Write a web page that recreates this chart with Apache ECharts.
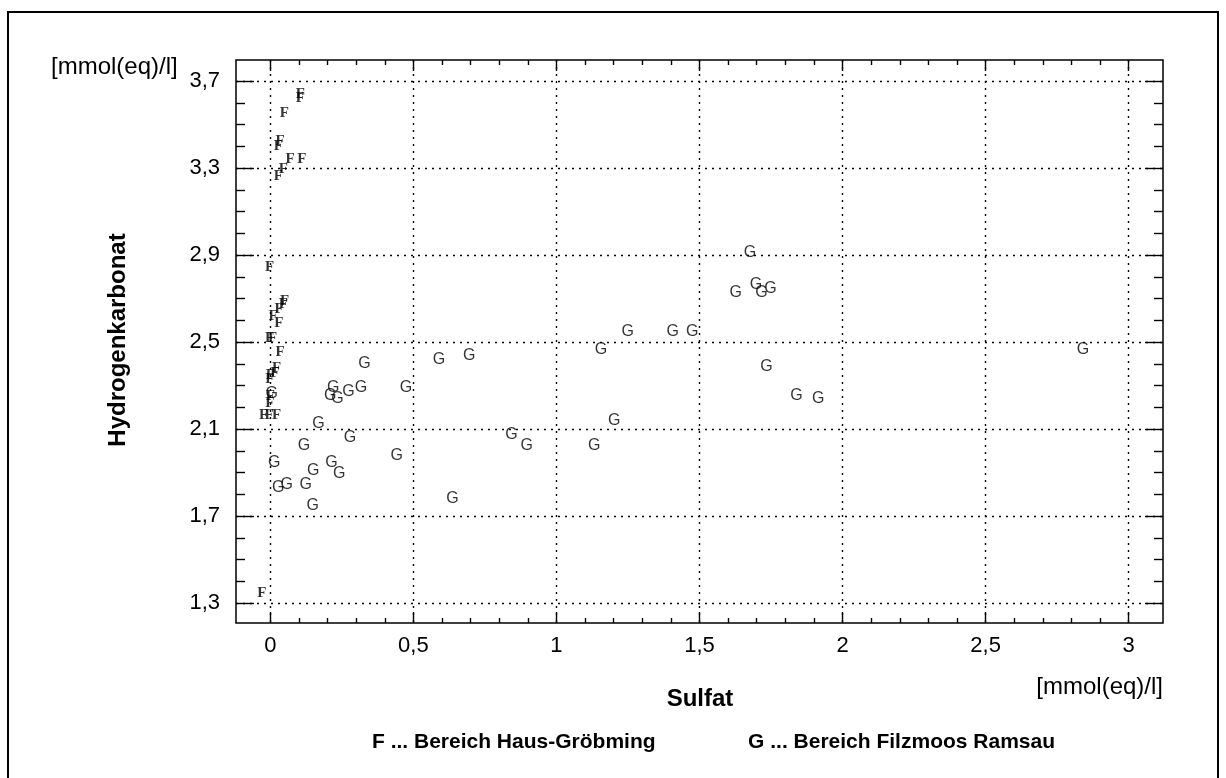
<!DOCTYPE html>
<html><head><meta charset="utf-8">
<script src="https://cdn.jsdelivr.net/npm/echarts@6/dist/echarts.min.js"></script>
<style>html,body{margin:0;padding:0;background:#fff}#c{width:1226px;height:778px}</style>
</head><body><div id="c"></div>
<script>
// ---- data (Sulfat [mmol(eq)/l], Hydrogenkarbonat [mmol(eq)/l]) ----
const fSulfat = [0.105,0.105,0.049,0.034,0.028,0.069,0.11,0.045,0.028,-0.003,0.05,0.045,0.031,0.01,0.03,-0.003,0.008,0.034,0.022,0.016,0.0,-0.002,0.0,-0.002,-0.024,-0.004,0.022,-0.03];
const fHydro  = [3.64,3.62,3.554,3.425,3.40,3.34,3.34,3.294,3.263,2.846,2.69,2.675,2.65,2.62,2.586,2.517,2.517,2.453,2.379,2.359,2.348,2.328,2.25,2.22,2.165,2.165,2.165,1.344];
const gSulfat = [0.005,0.168,0.22,0.273,0.317,0.209,0.235,0.474,0.329,0.278,0.118,0.014,0.214,0.442,0.15,0.241,0.057,0.028,0.124,0.148,0.637,1.249,1.406,1.475,1.156,0.589,0.695,1.202,0.843,0.896,1.132,1.676,1.697,1.748,1.717,1.627,1.734,1.839,1.915,2.84];
const gHydro  = [2.262,2.126,2.292,2.272,2.292,2.256,2.238,2.292,2.402,2.06,2.023,1.945,1.947,1.976,1.911,1.896,1.846,1.83,1.846,1.749,1.78,2.547,2.547,2.547,2.466,2.42,2.437,2.141,2.076,2.023,2.023,2.911,2.765,2.747,2.729,2.729,2.386,2.256,2.238,2.466];
const xTicks = [0,0.5,1,1.5,2,2.5,3];
const yTicks = [1.3,1.7,2.1,2.5,2.9,3.3,3.7];
const xRange = [-0.12,3.12];
const yRange = [1.208,3.797];
const xTitle = 'Sulfat';
const yTitle = 'Hydrogenkarbonat';
const unitText = '[mmol(eq)/l]';
const legendF = 'F ... Bereich Haus-Gröbming';
const legendG = 'G ... Bereich Filzmoos Ramsau';
const markF = 'F', markG = 'G';

const chart = echarts.init(document.getElementById('c'), null, {renderer:'canvas'});
const fmt = v => (Math.round(v*10)/10).toString().replace('.', ',');
const blk = '#000';
const font = 'Arial, "Liberation Sans", sans-serif';
const gridLine = {show:true, lineStyle:{color:blk, width:1.4, type:[2,5]}};

const xTickAxis = (pos, labels, split) => ({
  gridIndex:1, type:'value', position:pos, min:xTicks[0], max:xTicks[xTicks.length-1],
  interval:xTicks[1]-xTicks[0],
  axisLine:{show:false, onZero:false},
  axisTick:{show:true, inside:true, length:11, lineStyle:{color:blk, width:1.4}},
  minorTick:{show:true, splitNumber:5, length:5, lineStyle:{color:blk, width:1.4}},
  axisLabel:{show:labels, margin:12, color:blk, fontSize:22, fontFamily:font, formatter:fmt},
  splitLine: split ? gridLine : {show:false}
});
const yTickAxis = (pos, labels, split) => ({
  gridIndex:2, type:'value', position:pos, min:yTicks[0], max:yTicks[yTicks.length-1],
  interval:Math.round((yTicks[1]-yTicks[0])*10)/10,
  axisLine:{show:false, onZero:false},
  axisTick:{show:true, inside:true, length:18, lineStyle:{color:blk, width:1.4}},
  minorTick:{show:true, splitNumber:4, length:9, lineStyle:{color:blk, width:1.4}},
  axisLabel:{show:labels, margin:16, color:blk, fontSize:22, fontFamily:font, formatter:fmt},
  splitLine: split ? gridLine : {show:false}
});
const markerSeries = (xs, ys, mark, fam, size, weight) => ({
  type:'scatter', xAxisIndex:0, yAxisIndex:0, symbolSize:2, z:10,
  itemStyle:{color:'rgba(0,0,0,0)'},
  data:xs.map((x,i)=>[x,ys[i]]),
  label:{show:true, position:'inside', formatter:mark, color:blk, fontSize:size, fontWeight:weight, fontFamily:fam},
  labelLayout:{hideOverlap:false}
});

const option = {
  backgroundColor:'#fff',
  animation:false,
  grid:[
    {left:236, right:63, top:60, bottom:155, show:true, borderColor:blk, borderWidth:1.5, backgroundColor:'transparent', z:3},
    {left:270.3, right:97.3, top:60, bottom:155},
    {left:236, right:63, top:81, bottom:175}
  ],
  xAxis:[
    {gridIndex:0, type:'value', min:xRange[0], max:xRange[1], show:false},
    xTickAxis('bottom', true, true),
    xTickAxis('top', false, false),
    {gridIndex:2, type:'value', min:0, max:1, show:false}
  ],
  yAxis:[
    {gridIndex:0, type:'value', min:yRange[0], max:yRange[1], show:false},
    {gridIndex:1, type:'value', min:0, max:1, show:false},
    yTickAxis('left', true, true),
    yTickAxis('right', false, false)
  ],
  series:[
    markerSeries(fSulfat, fHydro, markF, '"Liberation Serif", serif', 15, 'bold'),
    markerSeries(gSulfat, gHydro, markG, font, 16, 'normal')
  ],
  graphic:[
    {type:'rect', shape:{x:8, y:12, width:1210, height:800}, style:{fill:'none', stroke:blk, lineWidth:2}, silent:true},
    {type:'text', left:51, top:55, style:{text:unitText, fill:blk, fontSize:24, fontFamily:font}},
    {type:'text', right:63, top:675, style:{text:unitText, fill:blk, fontSize:24, fontFamily:font}},
    {type:'text', x:700, y:699, style:{text:xTitle, fill:blk, fontSize:24, fontWeight:'bold', fontFamily:font, align:'center', verticalAlign:'middle'}},
    {type:'text', x:118, y:340, rotation:Math.PI/2, style:{text:yTitle, fill:blk, fontSize:24, fontWeight:'bold', fontFamily:font, align:'center', verticalAlign:'middle'}},
    {type:'text', x:372, y:742, style:{text:legendF, fill:blk, fontSize:21, fontWeight:'bold', fontFamily:font, verticalAlign:'middle'}},
    {type:'text', x:1055, y:742, style:{text:legendG, fill:blk, fontSize:21, fontWeight:'bold', fontFamily:font, align:'right', verticalAlign:'middle'}}
  ]
};
chart.setOption(option);
</script></body></html>
